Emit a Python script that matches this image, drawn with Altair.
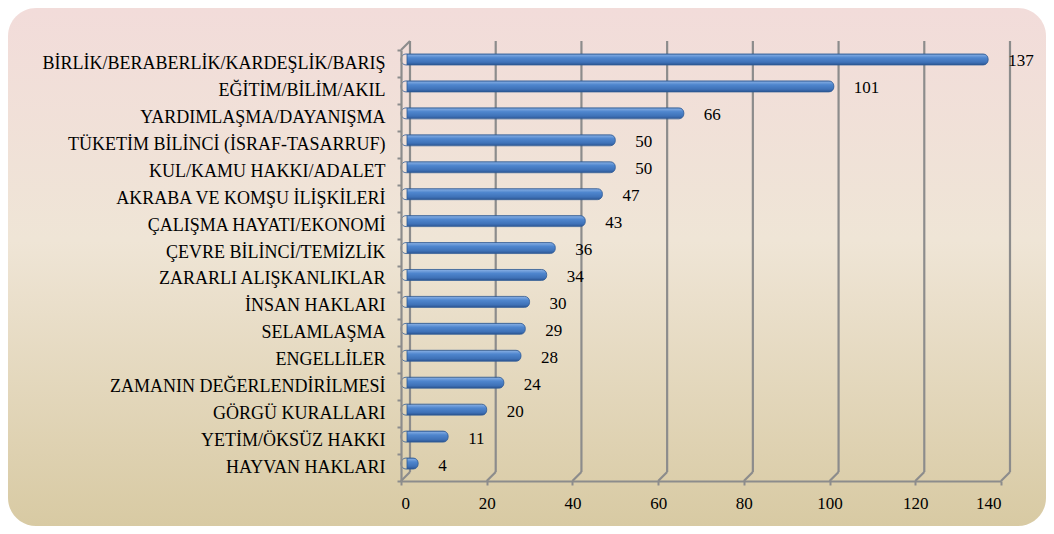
import altair as alt
import pandas as pd

categories = [
    "BİRLİK/BERABERLİK/KARDEŞLİK/BARIŞ",
    "EĞİTİM/BİLİM/AKIL",
    "YARDIMLAŞMA/DAYANIŞMA",
    "TÜKETİM BİLİNCİ (İSRAF-TASARRUF)",
    "KUL/KAMU HAKKI/ADALET",
    "AKRABA VE KOMŞU İLİŞKİLERİ",
    "ÇALIŞMA HAYATI/EKONOMİ",
    "ÇEVRE BİLİNCİ/TEMİZLİK",
    "ZARARLI ALIŞKANLIKLAR",
    "İNSAN HAKLARI",
    "SELAMLAŞMA",
    "ENGELLİLER",
    "ZAMANIN DEĞERLENDİRİLMESİ",
    "GÖRGÜ KURALLARI",
    "YETİM/ÖKSÜZ HAKKI",
    "HAYVAN HAKLARI",
]
values = [137, 101, 66, 50, 50, 47, 43, 36, 34, 30, 29, 28, 24, 20, 11, 4]
ticks = [0, 20, 40, 60, 80, 100, 120, 140]

W, H, D = 600, 431, 9
PAD_L, PAD_T, PAD_R, PAD_B = 393, 42, 45, 45
FONT = "'Liberation Serif', 'Times New Roman', Times, serif"
FS = 17
FS_CAT = 18
GRID = "#8c8c8c"

df = pd.DataFrame({"cat": categories, "v": values})
tdf = pd.DataFrame({"t": ticks})
one = pd.DataFrame({"a": [0]})

xscale = alt.Scale(domain=[0, 140], nice=False, zero=True)

bg_grad = {
    "gradient": "linear", "x1": 0, "y1": 0, "x2": 0, "y2": 1,
    "stops": [
        {"offset": 0, "color": "#F2DCDA"},
        {"offset": 0.45, "color": "#EFE5D6"},
        {"offset": 1, "color": "#D8CAA3"},
    ],
}
bar_grad = {
    "gradient": "linear", "x1": 0, "y1": 0, "x2": 0, "y2": 1,
    "stops": [
        {"offset": 0, "color": "#8DB3E6"},
        {"offset": 0.35, "color": "#4F86CE"},
        {"offset": 0.75, "color": "#3F72B8"},
        {"offset": 1, "color": "#2C5592"},
    ],
}

axis_common = dict(
    title=None, labelFont=FONT, labelColor="black",
    domainColor=GRID, domainWidth=2.2, tickColor=GRID, tickWidth=2,
    tickSize=4, grid=False, zindex=1,
)
x_axis = dict(values=ticks, labelPadding=10, labelFontSize=FS, **axis_common)
y_axis = dict(tickBand="extent", labelPadding=12, labelLimit=0, labelOffset=0,
              labelFontSize=FS_CAT, **axis_common)

bg = alt.Chart(one).mark_rect(fill=bg_grad, cornerRadius=28, clip=False).encode(
    x=alt.value(-PAD_L), x2=alt.value(W + PAD_R),
    y=alt.value(-PAD_T), y2=alt.value(H + PAD_B),
)

grid_back = alt.Chart(tdf).mark_rule(color=GRID, strokeWidth=2.2, xOffset=D, x2Offset=D).encode(
    x=alt.X("t:Q", scale=xscale, axis=alt.Axis(**x_axis)),
    y=alt.value(-D), y2=alt.value(H - D),
)

grid_diag = alt.Chart(tdf).mark_rule(color=GRID, strokeWidth=2.2, x2Offset=D).encode(
    x=alt.X("t:Q", scale=xscale, axis=alt.Axis(**x_axis)),
    x2=alt.X2("t:Q"),
    y=alt.value(H), y2=alt.value(H - D),
)

top_diag = alt.Chart(one).mark_rule(color=GRID, strokeWidth=2.2).encode(
    x=alt.value(0), x2=alt.value(D), y=alt.value(0), y2=alt.value(-D),
)

bars = alt.Chart(df).mark_bar(
    fill=bar_grad, cornerRadius=5, stroke="#2F5B96", strokeWidth=0.8,
    height=11, xOffset=6, x2Offset=4, yOffset=-4,
).encode(
    x=alt.X("v:Q", scale=xscale, axis=alt.Axis(**x_axis)),
    y=alt.Y("cat:N", sort=categories,
            scale=alt.Scale(paddingInner=0, paddingOuter=0),
            axis=alt.Axis(**y_axis)),
)

labels = alt.Chart(df).mark_text(
    align="left", baseline="middle", dx=20, dy=-2, font=FONT, fontSize=FS, color="black",
).encode(
    x=alt.X("v:Q", scale=xscale, axis=alt.Axis(**x_axis)),
    y=alt.Y("cat:N", sort=categories, axis=alt.Axis(**y_axis)),
    text="v:Q",
)

chart = alt.layer(bg, grid_back, grid_diag, top_diag, bars, labels).properties(
    width=W, height=H,
    autosize=alt.AutoSizeParams(type="none"),
    padding={"left": PAD_L, "top": PAD_T, "right": PAD_R, "bottom": PAD_B},
    background="white",
).configure_view(stroke=None)

chart.save("out.html", embed_options={"renderer": "svg", "actions": False})
